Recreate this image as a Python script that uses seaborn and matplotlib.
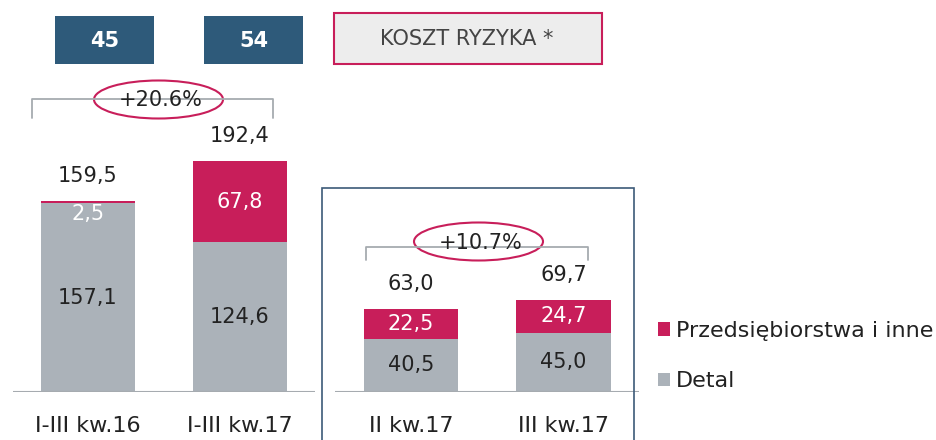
import numpy as np
import pandas as pd
import matplotlib
matplotlib.use('Agg')
import matplotlib.pyplot as plt
import seaborn as sns
from matplotlib.patches import Rectangle, Ellipse, Patch
from matplotlib.lines import Line2D

# ─── Data ────────────────────────────────────────────────────────────────────
ytd_periods = ['I-III kw.16', 'I-III kw.17']
ytd_detal   = [157.1, 124.6]
ytd_corp    = [2.5, 67.8]
ytd_total   = [159.5, 192.4]

q_periods = ['II kw.17', 'III kw.17']
q_detal   = [40.5, 45.0]
q_corp    = [22.5, 24.7]
q_total   = [63.0, 69.7]

header_values = ['45', '54']
ytd_change = '+20.6%'
q_change   = '+10.7%'
title = 'KOSZT RYZYKA *'
series_names = ['Przedsiębiorstwa i inne', 'Detal']

# ─── Style ───────────────────────────────────────────────────────────────────
RED   = '#C81E5A'
GREY  = '#ABB2B9'
NAVY  = '#2E5A7A'
DARK  = '#222222'
LINE  = '#A6ABB0'
FS    = 15

sns.set_style('white')
plt.rcParams['font.family'] = ['DejaVu Sans']

W, H = 937, 440
fig = plt.figure(figsize=(W / 100, H / 100), dpi=100)


def fx(x):
    return x / W


def fy(y):
    return 1 - y / H


def fmt(v):
    return f"{v:.1f}".replace('.', ',')


def stacked(ax, periods, detal, corp, total, width):
    df = pd.DataFrame({'period': periods, 'detal': detal, 'corp': corp, 'total': total})
    # total bar in red, retail bar drawn over it in grey -> stacked look
    sns.barplot(data=df, x='period', y='total', color=RED, width=width,
                saturation=1, ax=ax)
    sns.barplot(data=df, x='period', y='detal', color=GREY, width=width,
                saturation=1, ax=ax)
    for p in ax.patches:
        p.set_edgecolor('none')
    for i, row in df.iterrows():
        ax.annotate(fmt(row.total), (i, row.total),
                    xytext=(0, 18), textcoords='offset points',
                    ha='center', va='center', fontsize=FS, color=DARK)
        ax.text(i, row.detal / 2, fmt(row.detal),
                ha='center', va='center', fontsize=FS, color=DARK)
        if row.corp > 8:
            ax.text(i, row.detal + row.corp / 2, fmt(row.corp),
                    ha='center', va='center', fontsize=FS, color='white')
        else:
            ax.annotate(fmt(row.corp), (i, row.total),
                        xytext=(0, -10), textcoords='offset points',
                        ha='center', va='center', fontsize=FS, color='white')
    ax.axhline(0, color=LINE, lw=1.5)
    ax.set_xlabel('')
    ax.set_ylabel('')
    ax.set_yticks([])
    ax.tick_params(axis='x', length=0, labelsize=16, colors=DARK, pad=17)
    sns.despine(ax=ax, left=True, bottom=True)
    ax.patch.set_alpha(0)


# ─── Left panel (year to date) ───────────────────────────────────────────────
base = 392
ax1 = fig.add_axes([fx(13), fy(base), fx(302), base / H])
stacked(ax1, ytd_periods, ytd_detal, ytd_corp, ytd_total, 0.62)
ax1.set_xlim(-0.493, 1.493)
ax1.set_ylim(0, base / 1.2)

# ─── Right panel (quarters) ──────────────────────────────────────────────────
ax2 = fig.add_axes([fx(335), fy(base), fx(304), base / H])
stacked(ax2, q_periods, q_detal, q_corp, q_total, 0.62)
ax2.set_xlim(-0.498, 1.495)
ax2.set_ylim(0, base / 1.32)

# frame around the quarterly panel
fig.add_artist(Rectangle((fx(322), fy(445)), fx(312), fy(188) - fy(445),
                         transform=fig.transFigure, fill=False,
                         edgecolor='#3C5A78', lw=1.2))

# ─── Header boxes ────────────────────────────────────────────────────────────
for x0, val in zip([55, 204], header_values):
    fig.add_artist(Rectangle((fx(x0), fy(64)), fx(99), fy(16) - fy(64),
                             transform=fig.transFigure, color=NAVY, lw=0))
    fig.text(fx(x0 + 49.5), fy(41), val, ha='center', va='center',
             fontsize=15, fontweight='bold', color='white')

fig.add_artist(Rectangle((fx(334), fy(64)), fx(268), fy(13) - fy(64),
                         transform=fig.transFigure, facecolor='#EDEDED',
                         edgecolor=RED, lw=1.5))
fig.text(fx(467), fy(39), title, ha='center', va='center',
         fontsize=FS, color='#444444')


# ─── Growth brackets ─────────────────────────────────────────────────────────
def bracket(x0, x1, y, drop, cx, cy, ew, eh, label):
    xs = [fx(x0), fx(x0), fx(x1), fx(x1)]
    ys = [fy(y + drop), fy(y), fy(y), fy(y + drop)]
    fig.add_artist(Line2D(xs, ys, transform=fig.transFigure, color=LINE, lw=1.3))
    fig.add_artist(Ellipse((fx(cx), fy(cy)), fx(ew), fy(0) - fy(eh),
                           transform=fig.transFigure, facecolor='white',
                           edgecolor=RED, lw=1.5))
    fig.text(fx(cx + 2), fy(cy + 1), label, ha='center', va='center',
             fontsize=FS, color=DARK)


bracket(32, 273, 99, 19, 158.5, 99.5, 129, 38, ytd_change)
bracket(366, 588, 247, 13, 478.5, 241.5, 129, 38, q_change)

# ─── Legend ──────────────────────────────────────────────────────────────────
handles = [Patch(facecolor=RED, edgecolor='none'), Patch(facecolor=GREY, edgecolor='none')]
fig.legend(handles, series_names, loc='upper left',
           bbox_to_anchor=(fx(658), fy(321)), frameon=False, fontsize=16,
           borderpad=0, borderaxespad=0,
           handlelength=0.55, handleheight=0.55, handletextpad=0.27,
           labelspacing=1.36, labelcolor=DARK)

plt.savefig('out.png', dpi=100)
plt.close()
